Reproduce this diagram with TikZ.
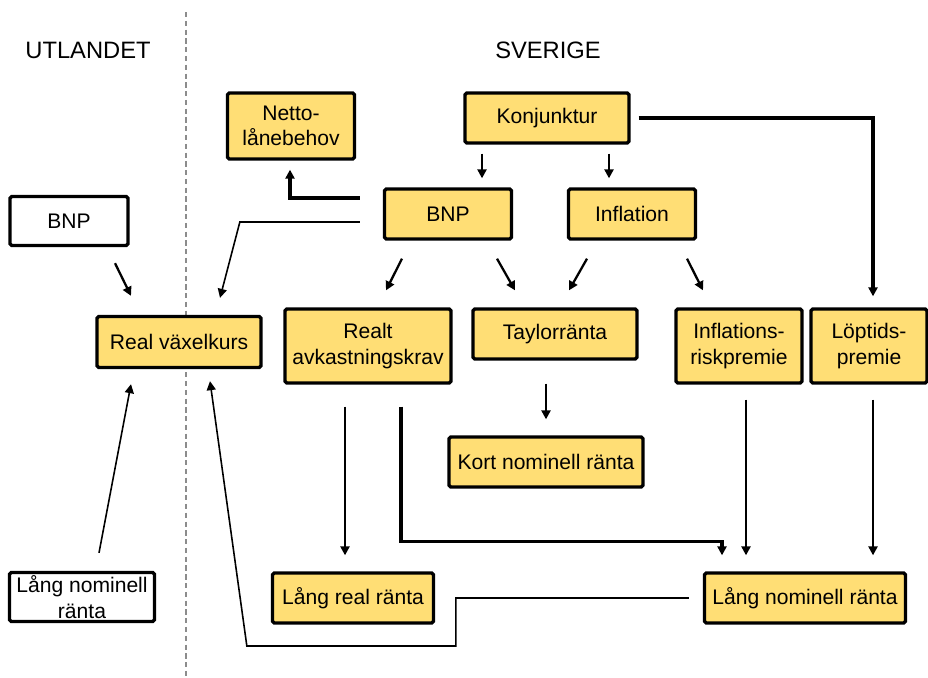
\documentclass[tikz,border=0pt]{standalone}
\usepackage{fontspec}
\setmainfont{Liberation Sans}
\usetikzlibrary{arrows.meta,calc}
\definecolor{qyellow}{RGB}{255,222,117}
\definecolor{qdash}{RGB}{140,140,140}

\begin{document}
\begin{tikzpicture}[
  x=0.02cm, y=-0.02cm,
  font=\fontsize{12}{14.6}\selectfont,
  bx/.style={draw,line width=1.9pt,rounded corners=1pt,align=center,inner sep=0pt},
  yb/.style={bx,fill=qyellow},
  wb/.style={bx,fill=white},
  hd/.style={font=\fontsize{13.5}{16}\selectfont},
  ln/.style={line width=1.3pt},
  lnt/.style={line width=1.8pt},
  lnf/.style={line width=0.9pt},
  tip/.style={-{Triangle[length=1.8mm,width=1.8mm]}},
  arr/.style={ln,tip},
  arrt/.style={lnt,tip},
  arrf/.style={lnf,tip},
  ]
  \useasboundingbox (0,0) rectangle (928,677);
  % Utlandet / Sverige
  \draw[qdash,line width=0.7pt,dash pattern=on 3pt off 2pt] (186,12) -- (186,677);
  \node[hd] (utl) at (88,50)  {UTLANDET};
  \node[hd] (sve) at (548,50) {SVERIGE};

  \node[yb,minimum width=2.54cm,minimum height=1.32cm] (netto)  at (291,126) {Netto-\\lånebehov};
  \node[yb,minimum width=3.28cm,minimum height=1.0cm]  (konj)   at (547,118) {Konjunktur};
  \node[yb,minimum width=2.54cm,minimum height=1.0cm]  (bnp)    at (448,214) {BNP};
  \node[yb,minimum width=2.54cm,minimum height=1.0cm]  (infl)   at (632,214) {Inflation};
  \node[wb,minimum width=2.36cm,minimum height=0.98cm] (bnpu)   at (69,221)  {BNP};
  \node[yb,minimum width=3.28cm,minimum height=1.02cm] (rvk)    at (179,342) {Real växelkurs};
  \node[yb,minimum width=3.32cm,minimum height=1.48cm] (realt)  at (368,346) {Realt\\avkastningskrav};
  \node[yb,minimum width=3.28cm,minimum height=1.0cm]  (taylor) at (555,334) {Taylorränta};
  \node[yb,minimum width=2.52cm,minimum height=1.48cm] (irp)    at (739,346) {Inflations-\\riskpremie};
  \node[yb,minimum width=2.32cm,minimum height=1.48cm] (lop)    at (869,346) {Löptids-\\premie};
  \node[yb,minimum width=3.88cm,minimum height=1.0cm]  (kort)   at (546,462) {Kort nominell ränta};
  \node[wb,minimum width=2.9cm,minimum height=0.98cm]  (lnu)    at (82,597)  {Lång nominell\\ränta};
  \node[yb,minimum width=3.22cm,minimum height=1.0cm]  (lrr)    at (353,598) {Lång real ränta};
  \node[yb,minimum width=4.02cm,minimum height=1.0cm]  (lnr)    at (805,598) {Lång nominell ränta};

  % from Konjunktur
  \draw[arr]  ($(konj.south)+(-65,9)$) -- ($(bnp.north)+(34,-9)$);
  \draw[arr]  ($(konj.south)+(62,9)$) -- ($(infl.north)+(-23,-9)$);
  \draw[arrt] ($(konj.east)+(8,0)$) -| ($(lop.north)+(4,-11)$);
  % from BNP
  \draw[arrt] ($(bnp.west)+(-23,-16)$) -| ($(netto.south)+(-1,9)$);
  \draw[arrf] ($(bnp.west)+(-23,8)$) -- ++(-120,0) -- ($(rvk.north)+(41,-17)$);
  \draw[arr]  ($(bnpu.south)+(46,16)$) -- ($(rvk.north)+(-48,-19)$);
  \draw[arr]  ($(bnp.south)+(-46,18)$) -- ($(realt.north)+(18,-17)$);
  \draw[arr]  ($(bnp.south)+(49,18)$) -- ($(taylor.north)+(-40,-17)$);
  % from Inflation
  \draw[arr]  ($(infl.south)+(-45,18)$) -- ($(taylor.north)+(14,-17)$);
  \draw[arr]  ($(infl.south)+(55,18)$) -- ($(irp.north)+(-36,-17)$);
  % to the rates
  \draw[arr]  ($(taylor.south)+(-9,23)$) -- ($(kort.north)+(0,-16)$);
  \draw[arr]  ($(realt.south)+(-23,22)$) -- ($(lrr.north)+(-8,-16)$);
  \draw[arrt] ($(realt.south)+(33,22)$) |- ($(lnr.north)+(-83,-30)$) -- ($(lnr.north)+(-83,-16)$);
  \draw[arr]  ($(irp.south)+(7,15)$) -- ($(lnr.north)+(-59,-16)$);
  \draw[arr]  ($(lop.south)+(4,15)$) -- ($(lnr.north)+(68,-16)$);
  % back to Real växelkurs
  \draw[arrf] ($(lnr.west)+(-14,0)$) -- ++(-233,0) -- ++(0,48) -- ++(-209,0) -- ($(rvk.south)+(31,12)$);
  \draw[arrf] ($(lnu.north)+(17,-18)$) -- ($(rvk.south)+(-48,15)$);
\end{tikzpicture}
\end{document}
